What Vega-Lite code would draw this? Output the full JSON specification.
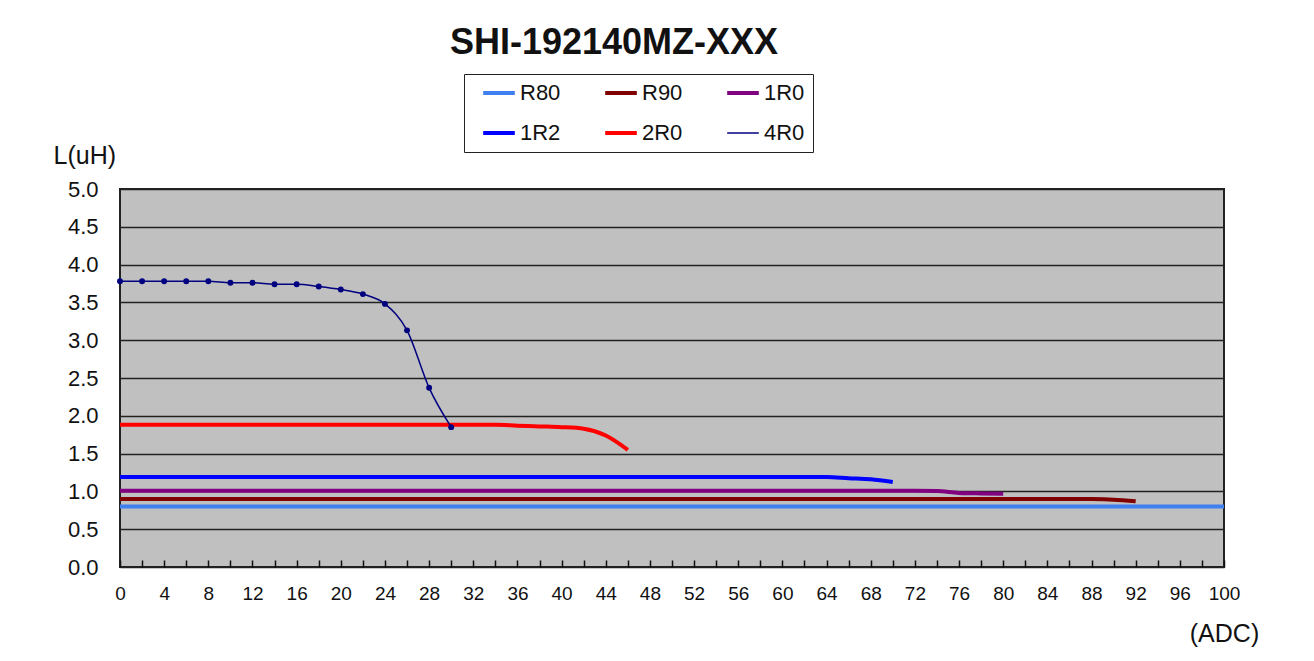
{
  "$schema": "https://vega.github.io/schema/vega-lite/v6.json",
  "width": 1104,
  "height": 378,
  "autosize": {"type": "none"},
  "padding": {"left": 120, "top": 189, "right": 90, "bottom": 94},
  "background": "white",
  "config": {
    "font": "Liberation Sans",
    "view": {"fill": "#c0c0c0", "stroke": "#222222", "strokeWidth": 2}
  },
  "title": {
    "text": "SHI-192140MZ-XXX",
    "fontSize": 36,
    "fontWeight": "bold",
    "color": "#111111",
    "anchor": "middle",
    "frame": "group",
    "dx": -58,
    "offset": 12
  },
  "data": {
    "values": [
      {"series": "R80", "x": 0, "y": 0.80},
      {"series": "R80", "x": 20, "y": 0.80},
      {"series": "R80", "x": 40, "y": 0.80},
      {"series": "R80", "x": 60, "y": 0.80},
      {"series": "R80", "x": 80, "y": 0.80},
      {"series": "R80", "x": 100, "y": 0.80},
      {"series": "R90", "x": 0, "y": 0.90},
      {"series": "R90", "x": 20, "y": 0.90},
      {"series": "R90", "x": 40, "y": 0.90},
      {"series": "R90", "x": 60, "y": 0.90},
      {"series": "R90", "x": 80, "y": 0.90},
      {"series": "R90", "x": 86, "y": 0.90},
      {"series": "R90", "x": 88, "y": 0.898},
      {"series": "R90", "x": 90, "y": 0.89},
      {"series": "R90", "x": 92, "y": 0.87},
      {"series": "1R0", "x": 0, "y": 1.01},
      {"series": "1R0", "x": 20, "y": 1.01},
      {"series": "1R0", "x": 40, "y": 1.01},
      {"series": "1R0", "x": 60, "y": 1.01},
      {"series": "1R0", "x": 72, "y": 1.01},
      {"series": "1R0", "x": 74, "y": 1.005},
      {"series": "1R0", "x": 76, "y": 0.98},
      {"series": "1R0", "x": 78, "y": 0.973},
      {"series": "1R0", "x": 80, "y": 0.97},
      {"series": "1R2", "x": 0, "y": 1.19},
      {"series": "1R2", "x": 20, "y": 1.19},
      {"series": "1R2", "x": 40, "y": 1.19},
      {"series": "1R2", "x": 60, "y": 1.19},
      {"series": "1R2", "x": 64, "y": 1.19},
      {"series": "1R2", "x": 66, "y": 1.175},
      {"series": "1R2", "x": 68, "y": 1.16},
      {"series": "1R2", "x": 70, "y": 1.125},
      {"series": "2R0", "x": 0, "y": 1.88},
      {"series": "2R0", "x": 10, "y": 1.88},
      {"series": "2R0", "x": 20, "y": 1.88},
      {"series": "2R0", "x": 30, "y": 1.88},
      {"series": "2R0", "x": 34, "y": 1.88},
      {"series": "2R0", "x": 36, "y": 1.87},
      {"series": "2R0", "x": 38, "y": 1.86},
      {"series": "2R0", "x": 40, "y": 1.85},
      {"series": "2R0", "x": 42, "y": 1.83},
      {"series": "2R0", "x": 44, "y": 1.74},
      {"series": "2R0", "x": 46, "y": 1.55},
      {"series": "4R0", "x": 0, "y": 3.78},
      {"series": "4R0", "x": 2, "y": 3.78},
      {"series": "4R0", "x": 4, "y": 3.78},
      {"series": "4R0", "x": 6, "y": 3.78},
      {"series": "4R0", "x": 8, "y": 3.78},
      {"series": "4R0", "x": 10, "y": 3.76},
      {"series": "4R0", "x": 12, "y": 3.76},
      {"series": "4R0", "x": 14, "y": 3.74},
      {"series": "4R0", "x": 16, "y": 3.74},
      {"series": "4R0", "x": 18, "y": 3.71},
      {"series": "4R0", "x": 20, "y": 3.67},
      {"series": "4R0", "x": 22, "y": 3.61},
      {"series": "4R0", "x": 24, "y": 3.48},
      {"series": "4R0", "x": 26, "y": 3.13},
      {"series": "4R0", "x": 28, "y": 2.37},
      {"series": "4R0", "x": 30, "y": 1.85}
    ]
  },
  "encoding": {
    "x": {
      "field": "x",
      "type": "quantitative",
      "scale": {"domain": [0, 100], "nice": false, "zero": false},
      "axis": {
        "title": "(ADC)",
        "titleFontSize": 25,
        "titleFontWeight": "normal",
        "titleColor": "#111111",
        "titleX": 1104,
        "titleY": 66,
        "titleAlign": "center",
        "titleBaseline": "middle",
        "values": [0,2,4,6,8,10,12,14,16,18,20,22,24,26,28,30,32,34,36,38,40,42,44,46,48,50,52,54,56,58,60,62,64,66,68,70,72,74,76,78,80,82,84,86,88,90,92,94,96,98,100],
        "labelExpr": "datum.value % 4 === 0 ? datum.label : ''",
        "labelFontSize": 19,
        "labelColor": "#111111",
        "labelPadding": 24,
        "labelFlush": false,
        "labelOverlap": false,
        "tickSize": -7,
        "tickColor": "#111111",
        "tickWidth": 1.5,
        "domain": false,
        "grid": false
      }
    },
    "y": {
      "field": "y",
      "type": "quantitative",
      "scale": {"domain": [0, 5], "nice": false},
      "axis": {
        "title": "L(uH)",
        "titleAngle": 0,
        "titleFontSize": 25,
        "titleFontWeight": "normal",
        "titleColor": "#111111",
        "titleX": -67,
        "titleY": -34,
        "titleAlign": "left",
        "titleBaseline": "middle",
        "values": [0, 0.5, 1, 1.5, 2, 2.5, 3, 3.5, 4, 4.5, 5],
        "format": ".1f",
        "labelFontSize": 22,
        "labelColor": "#111111",
        "labelPadding": 22,
        "ticks": false,
        "domain": false,
        "grid": true,
        "gridColor": "#222222",
        "gridWidth": 1.5,
        "gridOpacity": 1
      }
    },
    "color": {
      "field": "series",
      "type": "nominal",
      "scale": {
        "domain": ["R80", "R90", "1R0", "1R2", "2R0", "4R0"],
        "range": ["#3f7fef", "#800000", "#800080", "#0000ff", "#ff0000", "#000080"]
      },
      "legend": {
        "title": null,
        "orient": "none",
        "direction": "horizontal",
        "legendX": 344,
        "legendY": -115,
        "columns": 3,
        "columnPadding": 33,
        "rowPadding": 18,
        "padding": 8,
        "strokeColor": "#222222",
        "fillColor": "white",
        "symbolType": "stroke",
        "symbolSize": 1000,
        "symbolOffset": 16,
        "symbolStrokeWidth": 4,
        "labelFontSize": 22,
        "labelColor": "#111111",
        "labelOffset": 10,
        "encode": {
          "symbols": {"update": {"strokeWidth": {"signal": "datum.value === '4R0' ? 1.5 : 4"}}}
        }
      }
    }
  },
  "layer": [
    {
      "transform": [{"filter": "datum.series !== '4R0'"}],
      "mark": {"type": "line", "strokeWidth": 4, "interpolate": "monotone"}
    },
    {
      "transform": [{"filter": "datum.series === '4R0'"}],
      "mark": {"type": "line", "strokeWidth": 1.5, "interpolate": "monotone", "point": {"filled": true, "size": 35, "shape": "circle"}}
    }
  ]
}
